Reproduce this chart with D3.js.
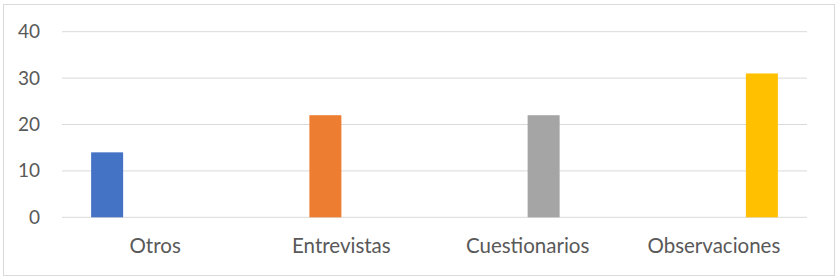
<!DOCTYPE html>
<html>
<head>
<meta charset="utf-8">
<script src="https://cdn.jsdelivr.net/npm/d3@7/dist/d3.min.js"></script>
<style>
  html, body { margin: 0; padding: 0; background: #fff; }
  svg { display: block; }
  text { font-family: Lato, "Noto Sans", sans-serif; fill: #595959; }
</style>
</head>
<body>
<svg id="chart" width="840" height="279"></svg>
<script>
const categories = ["Otros", "Entrevistas", "Cuestionarios", "Observaciones"];
const seriesNames = ["Otros", "Entrevistas", "Cuestionarios", "Observaciones"];
const seriesColors = ["#4472C4", "#ED7D31", "#A5A5A5", "#FFC000"];
// values[series][category]
const seriesValues = [
  [14, 0, 0, 0],
  [0, 22, 0, 0],
  [0, 0, 22, 0],
  [0, 0, 0, 31]
];
const yTicks = [0, 10, 20, 30, 40];

const svg = d3.select("#chart");
const plot = { left: 62, right: 807, top: 31.7, bottom: 217.3 };

svg.append("rect")
  .attr("x", 3.5).attr("y", 4.5)
  .attr("width", 831).attr("height", 271)
  .attr("fill", "#fff").attr("stroke", "#d9d9d9").attr("stroke-width", 1);

const x0 = d3.scaleBand().domain(categories).range([plot.left, plot.right]).padding(0);
const groupW = 128;
const x1 = d3.scaleBand().domain(seriesNames)
  .range([(x0.bandwidth() - groupW) / 2, (x0.bandwidth() + groupW) / 2]).padding(0);
const y = d3.scaleLinear().domain([0, 40]).range([plot.bottom, plot.top]);

// gridlines
svg.append("g").selectAll("line").data(yTicks).join("line")
  .attr("x1", plot.left).attr("x2", plot.right)
  .attr("y1", d => y(d)).attr("y2", d => y(d))
  .attr("stroke", "#d9d9d9").attr("stroke-width", 1);

// y axis labels
const yAxis = d3.axisLeft(y).tickValues(yTicks).tickSize(0).tickPadding(0);
const gy = svg.append("g").attr("transform", `translate(40,0)`).call(yAxis);
gy.select(".domain").remove();
gy.selectAll("text").attr("font-size", 19).attr("fill", "#595959")
  .style("font-family", "Lato, 'Noto Sans', sans-serif");

// bars
const rows = [];
seriesNames.forEach((s, si) => {
  categories.forEach((c, ci) => {
    rows.push({ s, c, v: seriesValues[si][ci], color: seriesColors[si] });
  });
});
svg.append("g").selectAll("rect").data(rows.filter(d => d.v > 0)).join("rect")
  .attr("x", d => x0(d.c) + x1(d.s))
  .attr("width", x1.bandwidth())
  .attr("y", d => y(d.v))
  .attr("height", d => y(0) - y(d.v))
  .attr("fill", d => d.color);

// x axis labels
const xAxis = d3.axisBottom(x0).tickSize(0).tickPadding(0);
const gx = svg.append("g").attr("transform", `translate(0,${plot.bottom})`).call(xAxis);
gx.select(".domain").remove();
gx.selectAll("text").attr("font-size", 20.5).attr("fill", "#595959")
  .attr("dy", null).attr("y", 36)
  .style("font-family", "Lato, 'Noto Sans', sans-serif");
</script>
</body>
</html>
